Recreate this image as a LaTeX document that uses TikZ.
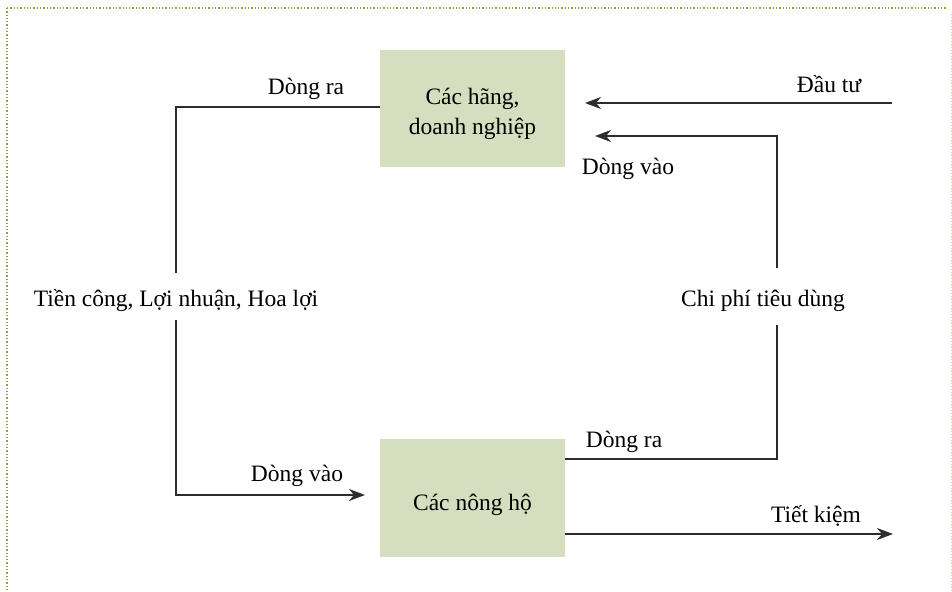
\documentclass[tikz,border=0pt]{standalone}
\usepackage{fontspec}
\setmainfont{Liberation Serif}
\usetikzlibrary{arrows.meta}
\definecolor{boxfill}{RGB}{214,222,192}
\definecolor{frameol}{RGB}{150,160,60}
\definecolor{framelt}{RGB}{205,212,175}
\definecolor{linec}{RGB}{45,45,45}
\begin{document}
\begin{tikzpicture}[x=1pt,y=-1pt,
  boxnode/.style={fill=boxfill,draw=none,minimum width=185pt,inner sep=0pt},
  lbl/.style={inner sep=0pt,font=\fontsize{23.5}{30}\selectfont},
  conn/.style={draw=linec,line width=1.3pt},
  arr/.style={conn,-{Stealth[length=16pt,width=12pt,inset=5pt]}}]
\useasboundingbox (0,0) rectangle (952,591);
% frame
\draw[frameol,line width=1.3pt,dotted] (7,8) -- (947,8);
\draw[frameol,line width=1.3pt,dotted] (7,8) -- (7,591);
\draw[framelt,line width=1pt,dotted] (951,14) -- (951,591);
% boxes
\node[boxnode,minimum height=117pt] (firm) at (472.5,108.5) {};
\node[boxnode,minimum height=118pt] (house) at (472.5,498) {};
\node[lbl,anchor=base] (firmtext) at (firm.center |- 0,105) {\begin{tabular}[t]{@{}c@{}}Các hãng,\\doanh nghiệp\end{tabular}};
\node[lbl,anchor=base] (housetext) at (house.center |- 0,510) {Các nông hộ};
% labels
\node[lbl,anchor=base] (outtop) at (306,95) {Dòng ra};
\node[lbl,anchor=base] (invest) at (829,93) {Đầu tư};
\node[lbl,anchor=base] (intop) at (628,174) {Dòng vào};
\node[lbl,anchor=base] (wages) at (176,306) {Tiền công, Lợi nhuận, Hoa lợi};
\node[lbl,anchor=base] (cost) at (763,306) {Chi phí tiêu dùng};
\node[lbl,anchor=base] (outbot) at (624,447) {Dòng ra};
\node[lbl,anchor=base] (inbot) at (297,481) {Dòng vào};
\node[lbl,anchor=base] (save) at (816,522) {Tiết kiệm};
% coordinates
\coordinate (wtop) at (176,273);
\coordinate (wbot) at (176,320);
\coordinate (ctop) at (777,268);
\coordinate (cbot) at (777,325);
\coordinate (fwest) at (firm.west |- 0,107);
\coordinate (hin) at (365,495);
\coordinate (hout) at (house.east |- 0,459);
\coordinate (fin) at (595,136);
\coordinate (invs) at (892,103);
\coordinate (invt) at (585,103);
\coordinate (savs) at (house.east |- 0,534);
\coordinate (savt) at (893,534);
% connectors
\draw[conn] (fwest) -| (wtop);
\draw[arr] (wbot) |- (hin);
\draw[conn] (hout) -| (cbot);
\draw[arr] (ctop) |- (fin);
\draw[arr] (invs) -- (invt);
\draw[arr] (savs) -- (savt);
\end{tikzpicture}
\end{document}
